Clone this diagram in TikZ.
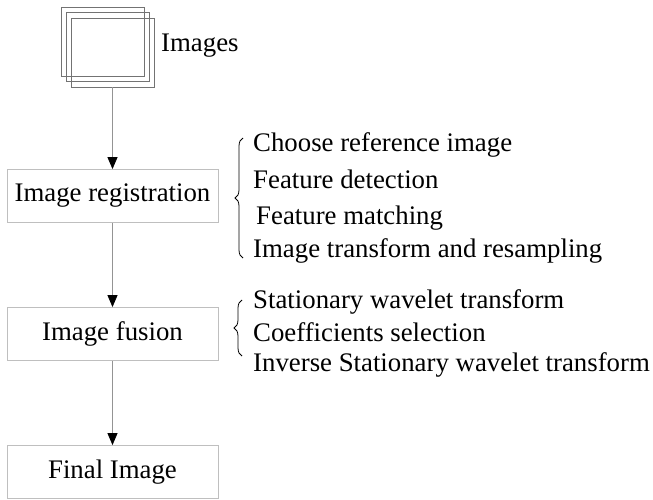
\documentclass[tikz,border=0pt]{standalone}
\usepackage{fontspec}
\setmainfont{Liberation Serif}
\usetikzlibrary{arrows.meta,decorations.pathreplacing,calc}
\definecolor{lg}{gray}{0.75}
\definecolor{mg}{gray}{0.58}
\definecolor{dg}{gray}{0.45}
\tikzset{
    stage/.style =  {rectangle,
                    fill=white,
                    draw=lg,
                    text=black,
                    line width=0.8pt,
                    minimum width=211pt,
                    minimum height=53pt},
    sheet/.style =  {rectangle,
                    fill=none,
                    draw=dg,
                    line width=0.7pt,
                    inner sep=0pt,
                    minimum width=83pt,
                    minimum height=69pt},
    item/.style =   {anchor=base west,
                    inner sep=0pt,
                    text=black},
    flow/.style =   {draw=mg,
                    line width=0.8pt,
                    -{Triangle[length=12pt,width=10pt,color=black]}},
    curly/.style =  {draw=black,
                    line width=0.8pt,
                    decorate,
                    decoration={brace,amplitude=8pt}},
    -,
    node distance=138pt,
    font=\fontsize{26.8}{30}\selectfont}

\begin{document}
\begin{tikzpicture}[x=1pt,y=1pt]
                \useasboundingbox (0,0) rectangle (653,499);
                % image stack
                \node[sheet]        (img3) at (102.5,457.5)   {};
                \node[sheet]        (img2) at (107.5,452)     {};
                \node[sheet]        (img)  at (112.5,446.5)   {};
                \node[item]         (lbl)  at (161,447)       {Images};
                % main stages
                \node[stage]        (reg) at (112.5,303)      {Image registration};
                \node[stage]        (fus) [below of=reg]      {Image fusion};
                \node[stage]        (fin) [below of=fus]      {Final Image};
                \path [flow]    (img) edge (reg)
                                (reg) edge (fus)
                                (fus) edge (fin);
                % registration steps
                \node[item]         (r1) at (253,347)         {Choose reference image};
                \node[item]         (r2) at (253,311)         {Feature detection};
                \node[item]         (r3) at (256,275)         {Feature matching};
                \node[item]         (r4) at (253,242)         {Image transform and resampling};
                \coordinate         (ra) at (243,241);
                \coordinate         (rb) at (243,361);
                \draw[curly]    (ra) -- (rb);
                % fusion steps
                \node[item]         (f1) at (253,191)         {Stationary wavelet transform};
                \node[item]         (f2) at (253,158)         {Coefficients selection};
                \node[item]         (f3) at (253,128)         {Inverse Stationary wavelet transform};
                \coordinate         (fa) at (242,143);
                \coordinate         (fb) at (242,199);
                \draw[curly]    (fa) -- (fb);
        \end{tikzpicture}
\end{document}
